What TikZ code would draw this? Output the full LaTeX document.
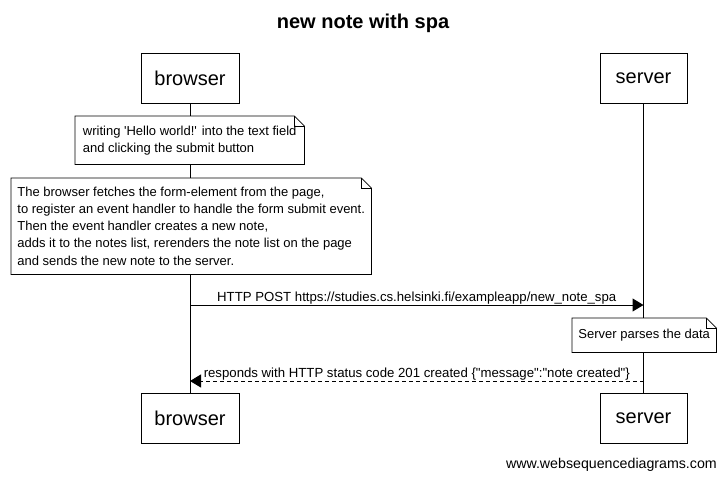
\documentclass[tikz,border=0pt]{standalone}
\usepackage{fontspec}
\setmainfont{Liberation Sans}[Ligatures=TeXOff]
\usetikzlibrary{arrows.meta,backgrounds}
\tikzset{
  actor/.style={draw, line width=1pt, minimum height=50pt, inner sep=0pt, font=\fontsize{20}{24}\selectfont},
  note/.style={anchor=north west, inner xsep=6pt, inner ysep=0pt, align=left,
    font=\fontsize{13}{17.1}\selectfont},
  noteframe/.style={draw, line width=0.8pt, fill=white},
  lifeline/.style={line width=1pt},
  msg/.style={line width=1pt, -{Triangle[length=11pt,width=13pt]}},
  lbl/.style={font=\fontsize{13.2}{15}\selectfont, inner sep=0pt}
}
\newcommand\drawnote[1]{%
  \draw[noteframe] (#1.north west) -- ([xshift=-10pt]#1.north east)
    -- ([yshift=-10pt]#1.north east) -- (#1.south east) -- (#1.south west) -- cycle;
  \draw[line width=0.6pt] ([xshift=-10pt]#1.north east) |- ([yshift=-10pt]#1.north east);
}
\begin{document}
\begin{tikzpicture}[x=1pt,y=-1pt]
\useasboundingbox (0,0) rectangle (726,479);
\node[font=\fontsize{20}{24}\selectfont\bfseries] (title) at (363,23) {new note with spa};
% actors
\node[actor, minimum width=98pt] (btop) at (190,78) {browser};
\node[actor, minimum width=87pt] (stop) at (643.5,78) {server};
\node[actor, minimum width=98pt] (bbot) at (190,418) {browser};
\node[actor, minimum width=87pt] (sbot) at (643.5,418) {server};
% notes
\node[note, minimum width=229pt, minimum height=48pt] (n1) at (75,116)
  {writing 'Hello world!' into the text field\\and clicking the submit button};
\node[note, minimum width=360pt, minimum height=96pt] (n2) at (11,178)
  {The browser fetches the form-element from the page,\\
   to register an event handler to handle the form submit event.\\
   Then the event handler creates a new note,\\
   adds it to the notes list, rerenders the note list on the page\\
   and sends the new note to the server.};
\node[note, minimum width=144pt, minimum height=34pt] (n3) at (572,318)
  {Server parses the data};
% messages
\coordinate (b1) at (190,305);
\coordinate (s1) at (643.5,305);
\draw[msg] (b1) -- node[lbl, above=0.5pt] (m1) {HTTP POST https://studies.cs.helsinki.fi/exampleapp/new\_note\_spa} (s1);
\coordinate (s2) at (643.5,381);
\coordinate (b2) at (190,381);
\draw[msg, dashed, dash pattern=on 4pt off 3pt] (s2) -- node[lbl, above=0.5pt] (m2) {responds with HTTP status code 201 created \{"message":"note created"\}} (b2);
\node[font=\fontsize{14.2}{17}\selectfont, anchor=east, inner sep=0pt] (foot) at (717,465) {www.websequencediagrams.com};
\begin{scope}[on background layer]
\fill[white] (0,0) rectangle (726,479);
\draw[lifeline] (btop.south) -- (bbot.north);
\draw[lifeline] (stop.south) -- (sbot.north);
\drawnote{n1}
\drawnote{n2}
\drawnote{n3}
\end{scope}
\end{tikzpicture}
\end{document}
